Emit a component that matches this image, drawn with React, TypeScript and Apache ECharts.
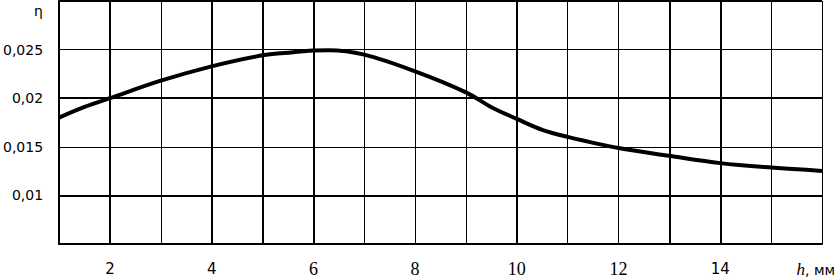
import React, { useEffect, useRef } from "react";
import * as echarts from "echarts";

// h, mm
const hValues = [1, 1.5, 2, 3, 4, 5, 5.5, 6, 6.3, 7, 8, 9, 9.5, 10, 10.5, 11, 12, 13, 14, 15, 16];
// eta
const etaValues = [0.018, 0.0191, 0.02, 0.0218, 0.02327, 0.02441, 0.02468, 0.0249, 0.02494, 0.02448, 0.02276, 0.0206, 0.01907, 0.01787, 0.01674, 0.01602, 0.01487, 0.01407, 0.01332, 0.01286, 0.01252];

const xTickLabels = [2, 4, 6, 8, 10, 12, 14];
const xSansLabels = [2, 4, 14];
const yTickLabels = [0.01, 0.015, 0.02, 0.025];

const thickX = [2, 4, 5, 6, 10, 13, 14];
const thickY = [0.03, 0.02, 0.01];

export default function App() {
  const ref = useRef<HTMLDivElement>(null);
  useEffect(() => {
    if (!ref.current) return;
    const chart = echarts.init(ref.current, null, { renderer: "svg" });
    const data = hValues.map((h, i) => [h, etaValues[i]]);
    const markData: any[] = [
      ...thickX.map((v) => ({ xAxis: v })),
      ...thickY.map((v) => ({ yAxis: v })),
    ];
    chart.setOption({
      animation: false,
      backgroundColor: "#fff",
      grid: { left: 57, top: 1, width: 765, height: 245, containLabel: false },
      xAxis: {
        type: "value",
        min: 1,
        max: 16,
        interval: 1,
        axisLine: { show: true, lineStyle: { color: "#000", width: 2 } },
        axisTick: { show: false },
        splitLine: { show: true, lineStyle: { color: "#000", width: 1 } },
        axisLabel: {
          margin: 16,
          formatter: (v: number) => {
            const r = Math.round(v);
            if (!xTickLabels.includes(r)) return "";
            return xSansLabels.includes(r) ? `{s|${r}}` : `{r|${r}}`;
          },
          rich: {
            s: { fontFamily: "DejaVu Sans", fontSize: 15, color: "#000", lineHeight: 18 },
            r: { fontFamily: "Liberation Serif", fontSize: 18, color: "#000", lineHeight: 18 },
          },
        },
      },
      yAxis: {
        type: "value",
        min: 0.005,
        max: 0.03,
        interval: 0.005,
        axisLine: { show: true, lineStyle: { color: "#000", width: 2 } },
        axisTick: { show: false },
        splitLine: { show: true, lineStyle: { color: "#000", width: 1 } },
        axisLabel: {
          margin: 16,
          color: "#000",
          fontFamily: "DejaVu Sans",
          fontSize: 14,
          formatter: (v: number) => {
            const r = Math.round(v * 1000) / 1000;
            if (!yTickLabels.some((t) => Math.abs(t - r) < 1e-9)) return "";
            return String(r).replace(".", ",");
          },
        },
      },
      graphic: [
        {
          type: "text",
          left: 34,
          top: 4,
          style: { text: "η", font: "14px 'DejaVu Sans'", fill: "#000" },
        },
        {
          type: "text",
          right: 2,
          top: 261,
          style: {
            text: "{i|h}{n|, мм}",
            rich: {
              i: { fontFamily: "Liberation Serif", fontStyle: "italic", fontSize: 17, fill: "#000" } as any,
              n: { fontFamily: "DejaVu Sans", fontSize: 14, fill: "#000" } as any,
            },
          },
        },
      ],
      series: [
        {
          type: "line",
          data,
          smooth: 0.35,
          showSymbol: false,
          lineStyle: { color: "#000", width: 4 },
          markLine: {
            silent: true,
            symbol: "none",
            label: { show: false },
            lineStyle: { color: "#000", width: 2, type: "solid" },
            data: markData,
          },
        },
      ],
    });
    return () => chart.dispose();
  }, []);
  return (
    <div
      ref={ref}
      style={{ position: "fixed", left: 0, top: 0, width: 837, height: 278 }}
    />
  );
}
